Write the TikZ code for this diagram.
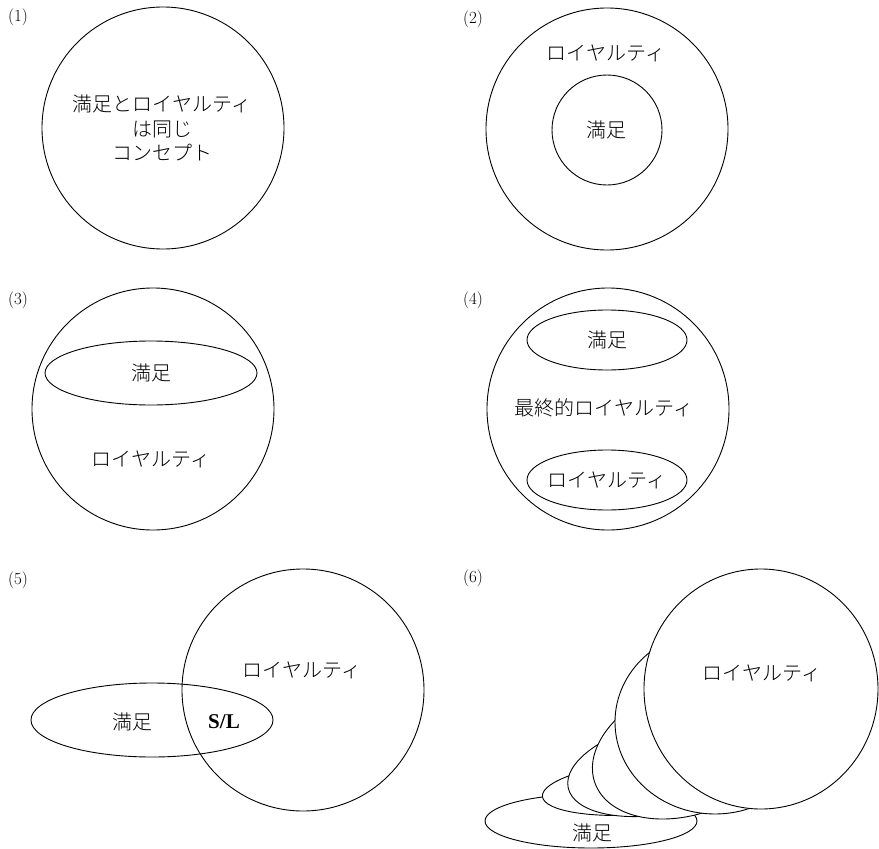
\documentclass[tikz,border=0pt]{standalone}
\usepackage{fontspec}
\newfontfamily\jpfont{Noto Sans CJK JP Light}
\newfontfamily\slfont{Liberation Serif}
\tikzset{
  lbl/.style={font=\fontsize{17}{20}\selectfont},
  jp/.style={font=\jpfont\fontsize{20}{24.5}\selectfont, align=center},
  disc/.style={draw, fill=white},
}
\begin{document}
\begin{tikzpicture}[x=1pt, y=-1pt, line width=0.9pt]
  \useasboundingbox (0,0) rectangle (879,849);
  % (1)
  \node[lbl] (l1) at (18,17) {(1)};
  \draw (163,128) circle [radius=121pt];
  \node[jp] (same) at (162,128) {満足とロイヤルティ\\は同じ\\コンセプト};
  % (2)
  \node[lbl] (l2) at (473,19) {(2)};
  \draw (607,129) circle [radius=121pt];
  \draw (607,130) circle [radius=55pt];
  \node[jp] (loy2) at (606,53) {ロイヤルティ};
  \node[jp] (sat2) at (606,130) {満足};
  % (3)
  \node[lbl] (l3) at (18,300) {(3)};
  \draw (153,409) circle [radius=121pt];
  \draw (151,373) ellipse [x radius=106pt, y radius=32pt];
  \node[jp] (sat3) at (151,373) {満足};
  \node[jp] (loy3) at (151,459) {ロイヤルティ};
  % (4)
  \node[lbl] (l4) at (473,300) {(4)};
  \draw (608,409) circle [radius=121pt];
  \draw (607,340) ellipse [x radius=80pt, y radius=30pt];
  \draw (607,480) ellipse [x radius=80pt, y radius=30pt];
  \node[jp] (sat4) at (607,340) {満足};
  \node[jp] (fin4) at (604,408) {最終的ロイヤルティ};
  \node[jp] (loy4) at (607,480) {ロイヤルティ};
  % (5)
  \node[lbl] (l5) at (18,580) {(5)};
  \draw (152,720) ellipse [x radius=121pt, y radius=37pt];
  \draw (303,690) circle [radius=121pt];
  \node[jp] (sat5) at (132,722) {満足};
  \node[font=\slfont\fontsize{21}{24}\selectfont\bfseries] (sl) at (224,722) {S/L};
  \node[jp] (loy5) at (302,670) {ロイヤルティ};
  % (6)
  \node[lbl] (l6) at (473,578) {(6)};
  \draw[disc] (591,821) ellipse [x radius=106pt, y radius=27pt];
  \draw[disc, rotate around={5:(650,787)}] (650,787) ellipse [x radius=108pt, y radius=27pt];
  \draw[disc, rotate around={12:(666,767)}] (666,767) ellipse [x radius=100pt, y radius=46pt];
  \draw[disc, rotate around={20:(689,749)}] (689,749) ellipse [x radius=100pt, y radius=65pt];
  \draw[disc] (715,722) ellipse [x radius=100pt, y radius=92pt];
  \draw[disc] (761,689) ellipse [x radius=117pt, y radius=120pt];
  \node[jp] (sat6) at (592,833) {満足};
  \node[jp] (loy6) at (762,673) {ロイヤルティ};
\end{tikzpicture}
\end{document}
